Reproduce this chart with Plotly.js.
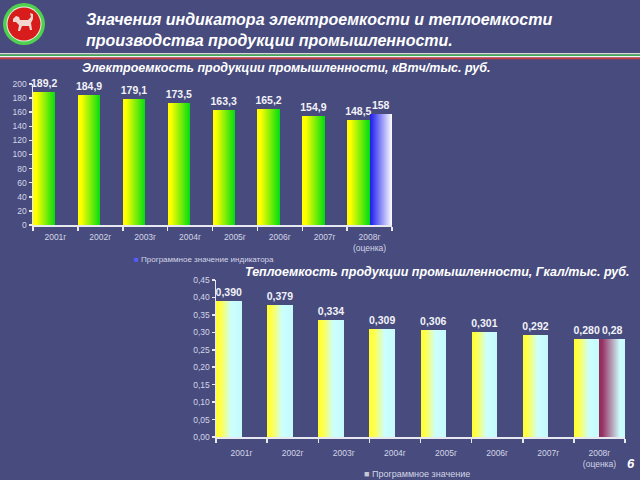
<!DOCTYPE html>
<html>
<head>
<meta charset="utf-8">
<script src="https://cdn.plot.ly/plotly-3.0.1.min.js"></script>
<style>
  html, body { margin: 0; padding: 0; background: #474b7e; }
  #plot { width: 640px; height: 480px; }
</style>
</head>
<body>
<div id="plot"></div>
<script>
// Categories (years)
let years = ['2001г', '2002г', '2003г', '2004г', '2005г', '2006г', '2007г', '2008г<br>(оценка)'];

// Electricity intensity, kWh per thousand rub.
let elecActual = [189.2, 184.9, 179.1, 173.5, 163.3, 165.2, 154.9, 148.5];
let elecProgram = [null, null, null, null, null, null, null, 158];
let elecActualText = ['189,2', '184,9', '179,1', '173,5', '163,3', '165,2', '154,9', '148,5'];
let elecProgramText = ['', '', '', '', '', '', '', '158'];

// Heat intensity, Gcal per thousand rub.
let heatActual = [0.390, 0.379, 0.334, 0.309, 0.306, 0.301, 0.292, 0.280];
let heatProgram = [null, null, null, null, null, null, null, 0.28];
let heatActualText = ['0,390', '0,379', '0,334', '0,309', '0,306', '0,301', '0,292', '0,280'];
let heatProgramText = ['', '', '', '', '', '', '', '0,28'];

const FONT = 'Liberation Sans, Arial, sans-serif';
const BG = '#474b7e';

// pixel -> paper helpers (margins are zero, so paper = whole 640x480)
const px = x => x / 640;
const py = y => 1 - y / 480;

function barTrace(x, y, text, xa, ya, color) {
  return {
    x: x, y: y, type: 'bar',
    xaxis: xa, yaxis: ya,
    text: text,
    textposition: 'outside',
    constraintext: 'none',
    cliponaxis: false,
    textfont: { family: FONT, size: 10.5, color: '#f2f2f8', weight: 'bold' },
    marker: { color: color, line: { width: 0 } },
    hoverinfo: 'none'
  };
}

let data = [
  barTrace(years, elecActual, elecActualText, 'x', 'y', '#88ee00'),
  barTrace(years, elecProgram, elecProgramText, 'x', 'y', '#8888ff'),
  barTrace(years, heatActual, heatActualText, 'x2', 'y2', '#e6ffaa'),
  barTrace(years, heatProgram, heatProgramText, 'x2', 'y2', '#b08899')
];

function xAxis(domain, anchor, standoff) {
  return {
    domain: domain, anchor: anchor,
    type: 'category',
    tickson: 'boundaries',
    ticks: 'outside', ticklen: 4, tickwidth: 1.5, tickcolor: '#e8e8f0',
    ticklabelstandoff: standoff,
    showline: true, linecolor: '#e8e8f0', linewidth: 1.5,
    showgrid: false, zeroline: false,
    tickfont: { family: FONT, size: 8.5, color: '#d4d6e6' },
    fixedrange: true
  };
}

function yAxis(domain, anchor, range, dtick, fmt) {
  return {
    domain: domain, anchor: anchor,
    range: range, dtick: dtick, tickformat: fmt,
    ticks: 'outside', ticklen: 3, tickwidth: 1.5, tickcolor: '#e8e8f0',
    showline: true, linecolor: '#e8e8f0', linewidth: 1.5,
    showgrid: false, zeroline: false,
    tickfont: { family: FONT, size: 8.5, color: '#d4d6e6' },
    fixedrange: true
  };
}

// Text annotation placed in pixels
function ann(text, x, y, size, anchor, opts) {
  return Object.assign({
    text: text, xref: 'paper', yref: 'paper',
    x: px(x), y: py(y), xanchor: anchor, yanchor: 'middle',
    showarrow: false,
    font: { family: FONT, size: size, color: '#ffffff', weight: 'bold', style: 'italic' }
  }, opts || {});
}

// Rectangle in pixels
function rect(x0, y0, x1, y1, color) {
  return {
    type: 'rect', xref: 'paper', yref: 'paper', layer: 'below',
    x0: px(x0), x1: px(x1), y0: py(y0), y1: py(y1),
    fillcolor: color, line: { width: 0 }
  };
}

function circle(cx, cy, r, color) {
  return {
    type: 'circle', xref: 'paper', yref: 'paper', layer: 'above',
    x0: px(cx - r), x1: px(cx + r), y0: py(cy + r), y1: py(cy - r),
    fillcolor: color, line: { width: 0 }
  };
}

// rough leopard silhouette for the emblem
let leopardPts = [[13,19],[16,16],[19,17],[20,20],[28,20],[31,17],[30,13],[33,14],[33,19],[31,23],[32,30],[30,30],[29,26],[22,26],[20,31],[18,31],[19,25],[16,22],[13,22]];
let leopardPath = 'M' + leopardPts.map(p => px(p[0]).toFixed(5) + ',' + py(p[1]).toFixed(5)).join('L') + 'Z';

let layout = {
  width: 640, height: 480,
  margin: { l: 0, r: 0, t: 0, b: 0 },
  paper_bgcolor: BG, plot_bgcolor: BG,
  separators: ', ',
  barmode: 'group', bargap: 0, bargroupgap: 0,
  showlegend: false,
  font: { family: FONT },
  xaxis: xAxis([px(33), px(392)], 'y', 3),
  yaxis: yAxis([py(225), py(84)], 'x', [0, 200], 20, 'd'),
  xaxis2: xAxis([px(216), px(625)], 'y2', 7),
  yaxis2: yAxis([py(437), py(280)], 'x2', [0, 0.45], 0.05, '.2f'),
  shapes: [
    // tricolour stripe under the header
    rect(0, 53, 640, 54.4, '#d9d6d6'),
    rect(0, 54.4, 640, 55.9, '#3fae55'),
    rect(0, 55.9, 640, 57.4, '#f4f4f4'),
    rect(0, 57.4, 640, 59.2, '#c93a3a'),
    // emblem
    circle(24, 24, 21, '#4fd14f'),
    circle(24, 24, 17.5, '#e8f0e8'),
    circle(24, 24, 16.5, '#d81c1c'),
    {
      type: 'path', xref: 'paper', yref: 'paper', layer: 'above',
      path: leopardPath, fillcolor: '#f0d8d0', line: { width: 0 }
    }
  ],
  annotations: [
    ann('Значения индикатора электроемкости и теплоемкости', 84, 20, 16, 'left'),
    ann('производства продукции промышленности.', 84, 40, 16, 'left'),
    ann('Электроемкость продукции промышленности, кВтч/тыс. руб.', 80, 68, 12.5, 'left'),
    ann('Теплоемкость продукции промышленности, Гкал/тыс. руб.', 632, 272, 12.5, 'right'),
    ann('6', 631, 463, 13, 'center'),
    ann('<span style="color:#5a5aff">■</span> Программное значение индикатора', 132, 259, 8, 'left',
        { font: { family: FONT, size: 8, color: '#d4d6e6' } }),
    ann('<span style="color:#c8c8d0">■</span> Программное значение', 362, 474, 9, 'left',
        { font: { family: FONT, size: 9, color: '#d4d6e6' } })
  ]
};

// horizontal gradients for the bars (Plotly bars have no gradient fill)
let gradients = {
  gTop1: [[0, '#ffff00'], [0.15, '#ffff00'], [1, '#00dd10']],
  gTop2: [[0, '#2020d8'], [0.12, '#3030f0'], [1, '#ffffff']],
  gBot1: [[0, '#ffff30'], [0.2, '#ffff50'], [0.6, '#ccffff'], [1, '#c6fafa']],
  gBot2: [[0, '#8e2f58'], [0.12, '#993366'], [0.8, '#ccfcfc'], [1, '#c6fafa']]
};

function addGradients(gd) {
  let svg = gd.querySelector('svg.main-svg');
  let defs = svg.querySelector('defs');
  let ns = 'http://www.w3.org/2000/svg';
  Object.keys(gradients).forEach(id => {
    let lg = document.createElementNS(ns, 'linearGradient');
    lg.setAttribute('id', id);
    lg.setAttribute('x1', '0'); lg.setAttribute('y1', '0');
    lg.setAttribute('x2', '1'); lg.setAttribute('y2', '0');
    gradients[id].forEach(s => {
      let st = document.createElementNS(ns, 'stop');
      st.setAttribute('offset', s[0]);
      st.setAttribute('stop-color', s[1]);
      lg.appendChild(st);
    });
    defs.appendChild(lg);
  });
  let ids = ['gTop1', 'gTop2', 'gBot1', 'gBot2'];
  gd.querySelectorAll('.barlayer .trace').forEach((tr, i) => {
    tr.querySelectorAll('.point path').forEach(p => {
      p.style.fill = 'url(#' + ids[i] + ')';
    });
  });
}

Plotly.newPlot('plot', data, layout, { displayModeBar: false, staticPlot: true })
  .then(gd => addGradients(gd));
</script>
</body>
</html>
